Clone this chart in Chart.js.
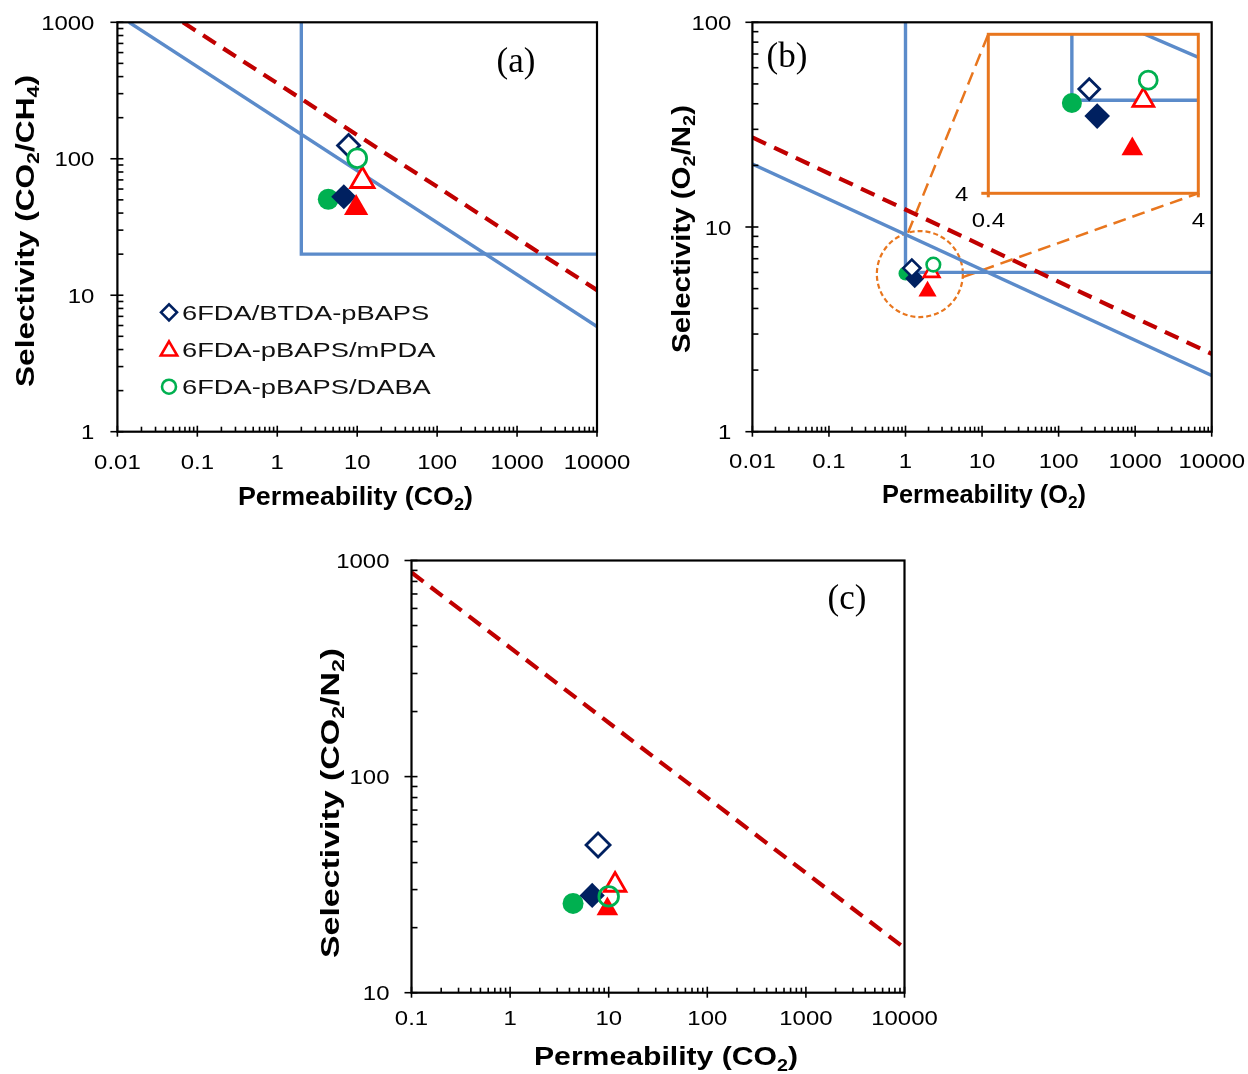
<!DOCTYPE html>
<html>
<head>
<meta charset="utf-8">
<script src="https://cdn.jsdelivr.net/npm/chart.js@4.4.0/dist/chart.umd.min.js"></script>
<style>
  body { margin: 0; background: #fff; }
  #wrap { position: relative; width: 1248px; height: 1074px; }
  canvas { position: absolute; }
</style>
</head>
<body>
<div id="wrap">
  <canvas id="cA" width="640" height="520" style="left:0;top:0"></canvas>
  <canvas id="cB" width="608" height="520" style="left:640px;top:0"></canvas>
  <canvas id="cBin" width="608" height="520" style="left:640px;top:0"></canvas>
  <canvas id="cC" width="640" height="534" style="left:300px;top:540px"></canvas>
</div>
<script>
// ----- polymers -----
const names = ['6FDA/BTDA-pBAPS', '6FDA-pBAPS/mPDA', '6FDA-pBAPS/DABA'];

// CO2 permeability (open / filled markers)
const pCO2Open   = [7.8, 11.6, 10.0];
const pCO2Filled = [6.8, 9.7, 4.35];
// CO2/CH4 selectivity
const sCH4Open   = [125, 69, 101];
const sCH4Filled = [52.7, 43.6, 50.5];
// O2 permeability and O2/N2 selectivity
const pO2Open    = [1.21, 2.19, 2.31];
const pO2Filled  = [1.32, 1.94, 1.0];
const sO2N2Open  = [6.3, 6.0, 6.55];
const sO2N2Filled = [5.6, 4.85, 5.93];
// CO2/N2 selectivity
const sCO2N2Open   = [48.3, 31.5, 27.9];
const sCO2N2Filled = [28.2, 24.4, 25.9];

// upper bounds (end points) and target regions
const ubCH4_1991 = [[0.014, 1000], [10000, 5.9]];
const ubCH4_2008 = [[0.066, 1000], [10000, 10.9]];
const ubO2_1991  = [[0.01, 20.3], [10000, 1.88]];
const ubO2_2008  = [[0.01, 27.4], [10000, 2.4]];
const ubCO2N2_2008 = [[0.1, 880], [10000, 16.1]];
const targetCH4 = [[2, 1000], [2, 20], [10000, 20]];
const targetO2  = [[1, 100], [1, 6], [10000, 6]];

// axis ticks
const xTicksA = [0.01, 0.1, 1, 10, 100, 1000, 10000];
const yTicksA = [1, 10, 100, 1000];
const yTicksB = [1, 10, 100];
const xTicksC = [0.1, 1, 10, 100, 1000, 10000];
const yTicksC = [10, 100, 1000];
const xTicksIn = [0.4, 4];
const yTicksIn = [4];

// zoomed region in (b)
const zoomCenter = [1.54, 5.89];

const BLUE = '#5B8BCA', DARKRED = '#C00000', ORANGE = '#E8761E';
const colors = ['#002060', '#FF0000', '#00B050'];
const shapes = ['rectRot', 'triangle', 'circle'];
const SANS = '"Liberation Sans", Arial, sans-serif';
const SERIF = '"Liberation Serif", "Times New Roman", serif';

const xy = pts => pts.map(p => ({ x: p[0], y: p[1] }));

function line(pts, color, dash, order) {
  return {
    data: xy(pts), showLine: true, pointRadius: 0, borderColor: color,
    borderWidth: dash ? 4.2 : 3.4, borderDash: dash || [], borderCapStyle: 'butt',
    order: order || 20
  };
}

// open: order 1..3 on top, filled: 4..6 below
function markers(px, py, filled, sizes, fill, bw) {
  const ord = filled ? [5, 4, 6] : [3, 2, 1];
  return px.map((x, i) => ({
    label: names[i],
    data: [{ x, y: py[i] }],
    pointStyle: shapes[i],
    pointRadius: sizes[i],
    pointHoverRadius: sizes[i],
    pointBackgroundColor: filled ? colors[i] : fill,
    pointBorderColor: colors[i],
    pointBorderWidth: filled ? 0 : bw,
    showLine: false,
    order: ord[i]
  }));
}

// text with _n subscripts, optional horizontal stretch / fit width
function text(ctx, s, x, y, o) {
  const size = o.size || 20;
  const wt = o.bold ? 'bold ' : '';
  const fam = o.family || SANS;
  const fMain = wt + size + 'px ' + fam;
  const fSub = wt + Math.round(size * 0.66) + 'px ' + fam;
  const parts = s.split(/_(\d)/);
  ctx.save();
  const widths = [];
  let total = 0;
  parts.forEach((p, i) => {
    ctx.font = i % 2 ? fSub : fMain;
    const w = ctx.measureText(p).width;
    widths.push(w); total += w;
  });
  const sx = o.w ? o.w / total : (o.sx || 1);
  ctx.translate(x, y);
  if (o.rot) ctx.rotate(o.rot);
  ctx.scale(sx, 1);
  let cx = o.align === 'right' ? -total : o.align === 'left' ? 0 : -total / 2;
  ctx.fillStyle = o.color || '#000';
  ctx.textAlign = 'left';
  ctx.textBaseline = 'alphabetic';
  const base = size * 0.36;
  parts.forEach((p, i) => {
    ctx.font = i % 2 ? fSub : fMain;
    ctx.fillText(p, cx, i % 2 ? base + size * 0.2 : base);
    cx += widths[i];
  });
  ctx.restore();
}

function seg(ctx, x1, y1, x2, y2) {
  ctx.beginPath(); ctx.moveTo(x1, y1); ctx.lineTo(x2, y2); ctx.stroke();
}

// frame, log ticks, tick labels and titles
function decoPlugin(cfg) {
  return {
    id: 'deco',
    beforeDatasetsDraw(chart) {
      const { ctx, chartArea: a } = chart;
      if (cfg.inset) {
        ctx.save();
        ctx.fillStyle = '#fff';
        ctx.fillRect(a.left, a.top, a.width, a.height);
        ctx.restore();
      }
      if (cfg.under) cfg.under(chart);
    },
    afterDraw(chart) {
      const { ctx, chartArea: a, scales: { x, y } } = chart;
      ctx.save();
      if (cfg.inset) {
        ctx.strokeStyle = ORANGE; ctx.lineWidth = 3;
        ctx.strokeRect(a.left, a.top, a.width, a.height);
        seg(ctx, a.left - 7, a.bottom, a.left, a.bottom);
        seg(ctx, a.left, a.bottom, a.left, a.bottom + 4);
        seg(ctx, a.right, a.bottom, a.right, a.bottom + 4);
      } else {
        ctx.strokeStyle = '#000'; ctx.lineWidth = 2.2;
        ctx.strokeRect(a.left, a.top, a.width, a.height);
        ctx.lineWidth = 1.6;
        const xmin = x.min, xmax = x.max, ymin = y.min, ymax = y.max;
        for (let d = xmin; d < xmax * 1.0001; d *= 10) {
          const px = x.getPixelForValue(d);
          seg(ctx, px, a.bottom + 5, px, a.bottom - 6);
          for (let k = 2; k < 10 && d * k < xmax; k++) {
            const mx = x.getPixelForValue(d * k);
            seg(ctx, mx, a.bottom, mx, a.bottom - 5);
          }
        }
        for (let d = ymin; d < ymax * 1.0001; d *= 10) {
          const py = y.getPixelForValue(d);
          seg(ctx, a.left - 7, py, a.left + 6, py);
          for (let k = 2; k < 10 && d * k < ymax; k++) {
            const my = y.getPixelForValue(d * k);
            seg(ctx, a.left, my, a.left + 6, my);
          }
        }
      }
      ctx.restore();

      const tf = { size: cfg.tickSize || 21, sx: 1.14, color: '#000' };
      cfg.xTicks.forEach(v => text(ctx, String(v), x.getPixelForValue(v), a.bottom + cfg.xGap, tf));
      cfg.yTicks.forEach(v => text(ctx, String(v), a.left - cfg.yGap, y.getPixelForValue(v),
        Object.assign({ align: 'right' }, tf)));

      if (cfg.xTitle) text(ctx, cfg.xTitle[0], cfg.xTitle[1], cfg.xTitle[2],
        { size: cfg.xTitle[4] || 25, bold: true, w: cfg.xTitle[3] });
      if (cfg.yTitle) text(ctx, cfg.yTitle[0], cfg.yTitle[1], cfg.yTitle[2],
        { size: 25, bold: true, w: cfg.yTitle[3], rot: -Math.PI / 2 });
      if (cfg.tag) text(ctx, cfg.tag[0], cfg.tag[1], cfg.tag[2], { size: 35, family: SERIF });
      if (cfg.over) cfg.over(chart);
    }
  };
}

function options(pad, xr, yr) {
  return {
    responsive: false, animation: false, events: [],
    layout: { padding: pad },
    plugins: { legend: { display: false }, tooltip: { enabled: false } },
    scales: {
      x: { type: 'logarithmic', min: xr[0], max: xr[1], display: false },
      y: { type: 'logarithmic', min: yr[0], max: yr[1], display: false }
    }
  };
}

// legend for (a)
function legendA(chart) {
  const ctx = chart.ctx;
  const rows = [312.3, 349.3, 386.7];
  const rad = [8, 9.5, 7];
  names.forEach((n, i) => {
    ctx.save();
    ctx.strokeStyle = colors[i]; ctx.fillStyle = '#fff'; ctx.lineWidth = 2.6;
    Chart.helpers.drawPoint(ctx, { pointStyle: shapes[i], radius: rad[i], rotation: 0, borderWidth: 2.6 }, 169, rows[i] + (i === 1 ? 1.5 : 0));
    ctx.restore();
    text(ctx, n, 182, rows[i], { size: 21, sx: 1.3, align: 'left', color: '#111' });
  });
}

// ----- (a) CO2/CH4 -----
new Chart(document.getElementById('cA'), {
  type: 'scatter',
  data: { datasets: [
    ...markers(pCO2Open, sCH4Open, false, [11, 13.5, 9.4], '#fff', 2.8),
    ...markers(pCO2Filled, sCH4Filled, true, [12.6, 14, 10.5], '#fff', 0),
    line(ubCH4_2008, DARKRED, [15, 9], 21),
    line(ubCH4_1991, BLUE, null, 22),
    line(targetCH4, BLUE, null, 23)
  ] },
  options: options({ left: 117.4, top: 22.3, right: 43, bottom: 88.3 }, [0.01, 10000], [1, 1000]),
  plugins: [decoPlugin({
    xTicks: xTicksA, yTicks: yTicksA, xGap: 30, yGap: 23,
    xTitle: ['Permeability (CO_2)', 355.5, 496, 235],
    yTitle: ['Selectivity (CO_2/CH_4)', 25, 231, 312],
    tag: ['(a)', 516, 59],
    over: legendA
  })]
});

// ----- (b) inset -----
const insetChart = new Chart(document.getElementById('cBin'), {
  type: 'scatter',
  data: { datasets: [
    ...markers(pO2Open, sO2N2Open, false, [10.4, 12, 9], '#fff', 2.8),
    ...markers(pO2Filled, sO2N2Filled, true, [12.8, 12.5, 10], '#fff', 0),
    line(ubO2_1991, BLUE, null, 22),
    line(targetO2, BLUE, null, 23)
  ] },
  options: options({ left: 348.3, top: 34.3, right: 49.7, bottom: 326.7 }, [0.4, 4], [4, 8]),
  plugins: [decoPlugin({ inset: true, xTicks: xTicksIn, yTicks: yTicksIn, xGap: 26, yGap: 20, tickSize: 21 })]
});

// dashed circle and connectors to the inset
function zoomMarks(chart) {
  const { ctx, scales: { x, y } } = chart;
  const a = insetChart.chartArea;
  const cx = x.getPixelForValue(zoomCenter[0]), cy = y.getPixelForValue(zoomCenter[1]);
  const R = 43;
  ctx.save();
  ctx.strokeStyle = ORANGE;
  ctx.lineWidth = 2.2; ctx.setLineDash([5, 3]);
  ctx.beginPath(); ctx.arc(cx, cy, R, 0, Math.PI * 2); ctx.stroke();
  ctx.lineWidth = 2.5; ctx.setLineDash([13, 7]);
  const t1 = -106 * Math.PI / 180, t2 = 4 * Math.PI / 180;
  seg(ctx, cx + R * Math.cos(t1), cy + R * Math.sin(t1), a.left, a.top);
  seg(ctx, cx + R * Math.cos(t2), cy + R * Math.sin(t2), a.right, a.bottom);
  ctx.restore();
}

// ----- (b) O2/N2 -----
new Chart(document.getElementById('cB'), {
  type: 'scatter',
  data: { datasets: [
    ...markers(pO2Open, sO2N2Open, false, [8.6, 9, 6.8], '#fff', 2.6),
    ...markers(pO2Filled, sO2N2Filled, true, [9.6, 10.5, 7], '#fff', 0),
    line(ubO2_2008, DARKRED, [15, 9], 21),
    line(ubO2_1991, BLUE, null, 22),
    line(targetO2, BLUE, null, 23)
  ] },
  options: options({ left: 112.4, top: 22.3, right: 36.3, bottom: 88.3 }, [0.01, 10000], [1, 100]),
  plugins: [decoPlugin({
    xTicks: xTicksA, yTicks: yTicksB, xGap: 28.5, yGap: 21,
    xTitle: ['Permeability (O_2)', 344, 494, 204],
    yTitle: ['Selectivity (O_2/N_2)', 40.5, 229, 248],
    tag: ['(b)', 147, 54],
    under: zoomMarks
  })]
});

// ----- (c) CO2/N2 -----
new Chart(document.getElementById('cC'), {
  type: 'scatter',
  data: { datasets: [
    ...markers(pCO2Open, sCO2N2Open, false, [12, 12.5, 9.8], 'rgba(0,0,0,0)', 2.8),
    ...markers(pCO2Filled, sCO2N2Filled, true, [12.6, 12.5, 10.5], '#fff', 0),
    line(ubCO2N2_2008, DARKRED, [15, 9], 21)
  ] },
  options: options({ left: 111.5, top: 20.5, right: 35.5, bottom: 81.3 }, [0.1, 10000], [10, 1000]),
  plugins: [decoPlugin({
    xTicks: xTicksC, yTicks: yTicksC, xGap: 25, yGap: 22,
    xTitle: ['Permeability (CO_2)', 366, 516, 264, 26],
    yTitle: ['Selectivity (CO_2/N_2)', 29.5, 263, 310],
    tag: ['(c)', 547, 56]
  })]
});
</script>
</body>
</html>
